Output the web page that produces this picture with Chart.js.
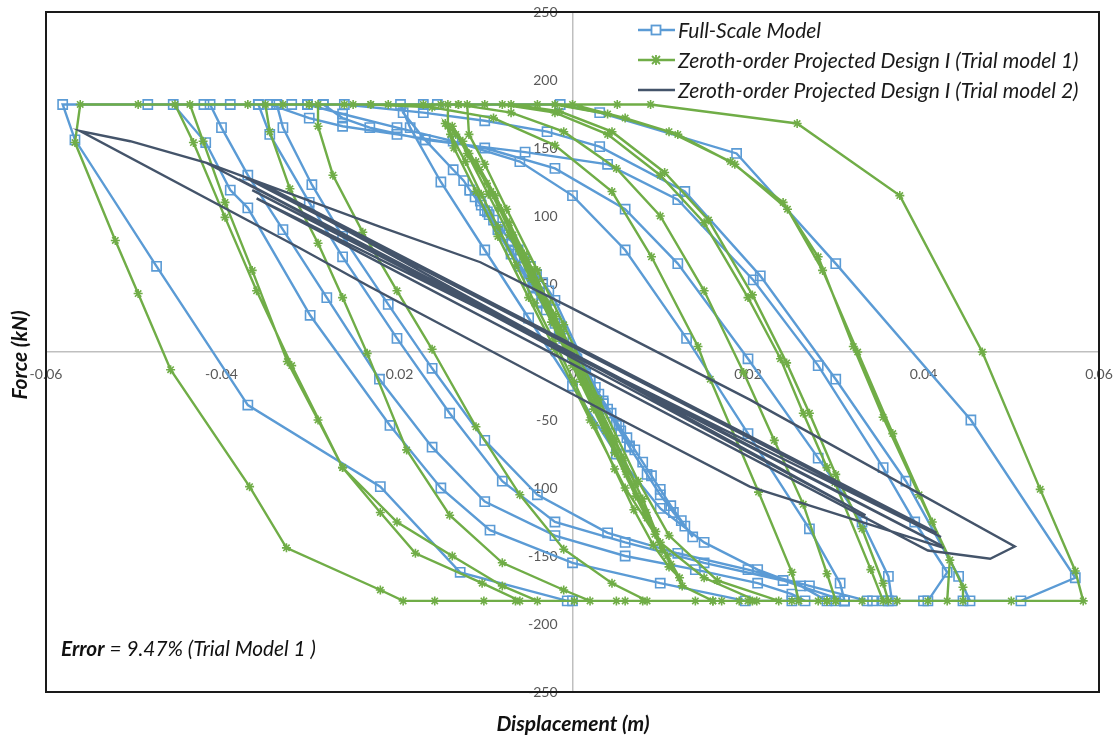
<!DOCTYPE html>
<html>
<head>
<meta charset="utf-8">
<title>Force - displacement hysteresis</title>
<script src="https://cdn.jsdelivr.net/npm/chart.js@4.4.1/dist/chart.umd.min.js"></script>
<style>
  html, body { margin: 0; padding: 0; background: #fff; }
  #wrap { width: 1118px; height: 740px; position: relative; }
</style>
</head>
<body>
<div id="wrap"><canvas id="hyst" width="1118" height="740"></canvas></div>
<script>
// ---- tick values ----
const xTicks = [-0.06, -0.04, -0.02, 0, 0.02, 0.04, 0.06];
const yTicks = [-250, -200, -150, -100, -50, 0, 50, 100, 150, 200, 250];

// ---- Full-Scale Model (displacement m / force kN) ----
const fullDisp = [
  0, -0.0015, -0.0030, -0.0020, 0.0005, 0.0020, 0.0030, 0.0015, -0.0010, -0.0035, -0.0050, -0.0060,
  -0.0045, -0.0015, 0.0015, 0.0040, 0.0055, 0.0065, 0.0050, 0.0020, -0.0015, -0.0045, -0.0070, -0.0085,
  -0.0095, -0.0105, -0.0117, -0.0100, -0.0070, -0.0035, 0.0000, 0.0035, 0.0065, 0.0085, 0.0100, 0.0115,
  0.0128, 0.0137,
  0.0124, 0.0112, 0.0100, 0.0090, 0.0080, 0.0071, 0.0062, 0.0053, 0.0044, 0.0035, 0.0026,
  -0.0020, -0.0027, -0.0034, -0.0041, -0.0048, -0.0055, -0.0062, -0.0069, -0.0076, -0.0083, -0.0090,
  -0.0097, -0.0104, -0.0111, -0.0117, -0.0124,
  -0.0136, -0.0168, -0.0193, -0.0196,
  -0.0185, -0.0150, -0.0100, -0.0050, 0.0000, 0.0050, 0.0100, 0.0150, 0.0211, 0.0260, 0.0290, 0.0310,
  0.0305, 0.0270, 0.0200, 0.0130, 0.0060, 0.0000, -0.0060, -0.0136, -0.0200, -0.0262, -0.0302, -0.0320,
  -0.0337, -0.0330, -0.0297, -0.0262, -0.0210, -0.0160, -0.0100, -0.0040, 0.0040, 0.0120, 0.0200, 0.0270, 0.0336, 0.0354,
  0.0364, 0.0360, 0.0330, 0.0280, 0.0200, 0.0120, 0.0060, -0.0020, -0.0100, -0.0200, -0.0262, -0.0300, -0.0345,
  -0.0358, -0.0345, -0.0300, -0.0262, -0.0200, -0.0140, -0.0080, -0.0020, 0.0060, 0.0150, 0.0240, 0.0310,
  0.0342, 0.0405,
  0.0427, 0.0390, 0.0354, 0.0280, 0.0206, 0.0120, 0.0040, -0.0054, -0.0168, -0.0231, -0.0262, -0.0284,
  -0.0302, -0.0390,
  -0.0413, -0.0400, -0.0370, -0.0330, -0.0280, -0.0220, -0.0160, -0.0100, -0.0020, 0.0060, 0.0140, 0.0211, 0.0250, 0.0265,
  0.0300, 0.0360, 0.0445,
  0.0453, 0.0440, 0.0380, 0.0300, 0.0214, 0.0128, 0.0031, -0.0029, -0.0100, -0.0170, -0.0260,
  -0.0337, -0.0420,
  -0.0455, -0.0418, -0.0390, -0.0370, -0.0299, -0.0208, -0.0150, -0.0094, 0.0000, 0.0100, 0.0197,
  0.0250, 0.0310, 0.0400, 0.0511,
  0.0573, 0.0454, 0.0300, 0.0187, 0.0031, -0.0014,
  -0.0154, -0.0170, -0.0284, -0.0358, -0.0484,
  -0.0581, -0.0567, -0.0474, -0.0370, -0.0219, -0.0128, -0.0006, 0.0000
];
const fullForce = [
  0, 15, 31, 21, -5, -21, -31, -16, 10, 37, 52, 63,
  47, 16, -16, -42, -58, -69, -53, -21, 16, 48, 75, 90,
  101, 111, 119, 104, 72, 36, -2, -38, -70, -90, -105, -118,
  -128, -136,
  -124, -113, -101, -91, -81, -72, -63, -54, -45, -36, -26,
  38, 45, 51, 57, 63, 69, 75, 81, 86, 92, 97,
  103, 108, 114, 119, 126,
  134, 156, 176, 182,
  165, 125, 75, 25, -25, -75, -115, -140, -160, -172, -183, -183,
  -170, -130, -60, 10, 75, 115, 140, 155, 165, 175, 182, 182,
  182, 165, 123, 85, 35, -12, -65, -105, -133, -148, -160, -172, -183, -183,
  -183, -165, -125, -78, -5, 65, 105, 135, 150, 160, 166, 172, 182,
  182, 160, 110, 70, 10, -45, -95, -125, -140, -155, -168, -183,
  -183, -183,
  -162, -125, -85, -10, 53, 112, 138, 147, 156, 165, 172, 182,
  182, 182,
  182, 165, 130, 90, 40, -20, -70, -110, -135, -150, -160, -170, -178, -183,
  -183, -183, -183,
  -183, -165, -95, -20, 56, 118, 151, 162, 170, 176, 182,
  182, 182,
  182, 154, 119, 106, 27, -54, -100, -131, -155, -170, -183,
  -183, -183, -183, -183,
  -166, -50, 65, 146, 176, 182,
  182, 182, 182, 182, 182,
  182, 156, 63, -39, -99, -162, -183, -183
];

// ---- Zeroth-order Projected Design I (Trial model 1) ----
const trial1Disp = [
  0, -0.0020, -0.0040, -0.0028, 0.0005, 0.0028, 0.0012, -0.0022, -0.0055, -0.0072, -0.0052, -0.0012,
  0.0030, 0.0058, 0.0072, 0.0048, 0.0002, -0.0045, -0.0088, -0.0110, -0.0098, -0.0052, 0.0000, 0.0048,
  0.0080, 0.0095, 0.0102,
  0.0085, 0.0062, 0.0038, 0.0012, -0.0016, -0.0042, -0.0068, -0.0093, -0.0118, -0.0133, -0.0145,
  -0.0139, -0.0122, -0.0104, -0.0085, -0.0064, -0.0043, -0.0021, 0.0002, 0.0025, 0.0048, 0.0070, 0.0092, 0.0110, 0.0122,
  0.0108, 0.0084, 0.0060, 0.0036, 0.0012, -0.0012, -0.0036, -0.0060, -0.0084, -0.0106, -0.0125, -0.0137,
  -0.0120, -0.0096, -0.0072, -0.0048, -0.0024, 0.0000, 0.0024, 0.0048, 0.0072, 0.0094, 0.0112,
  0.0125, 0.0160, 0.0205,
  0.0258, 0.0250, 0.0212, 0.0157, 0.0143, 0.0090, 0.0045, -0.0020, -0.0090, -0.0160, -0.0230,
  -0.0260,
  -0.0290, -0.0290, -0.0273, -0.0239, -0.0200, -0.0160, -0.0110, -0.0060, -0.0010, 0.0045, 0.0085,
  0.0140, 0.0200, 0.0250,
  0.0300, 0.0290, 0.0263, 0.0230, 0.0195, 0.0150, 0.0100, 0.0050, -0.0010, -0.0070, -0.0130,
  -0.0142, -0.0142, -0.0135, -0.0110, -0.0085, -0.0050, -0.0020, 0.0020, 0.0060, 0.0100, 0.0150, 0.0210,
  0.0280,
  0.0354, 0.0340, 0.0299, 0.0290, 0.0263, 0.0237, 0.0200, 0.0150, 0.0100, 0.0040, -0.0020, -0.0080,
  -0.0120, -0.0118, -0.0100, -0.0075, -0.0040, -0.0010, 0.0030, 0.0075, 0.0110, 0.0165, 0.0235,
  0.0300,
  0.0360, 0.0354, 0.0330, 0.0300, 0.0270, 0.0244, 0.0205, 0.0155, 0.0105, 0.0045, -0.0015, -0.0070,
  -0.0150, -0.0230, -0.0300,
  -0.0350, -0.0345, -0.0322, -0.0290, -0.0262, -0.0234, -0.0189, -0.0140, -0.0080, -0.0010, 0.0020,
  0.0080, 0.0160, 0.0290, 0.0370,
  0.0427, 0.0430, 0.0395, 0.0354, 0.0320, 0.0280, 0.0240, 0.0180, 0.0110, 0.0040, -0.0020,
  -0.0100, -0.0210, -0.0330,
  -0.0436, -0.0421, -0.0396, -0.0365, -0.0325, -0.0290, -0.0262, -0.0200, -0.0137, -0.0080, -0.0040,
  0.0060, 0.0190, 0.0330,
  0.0445, 0.0445, 0.0410, 0.0365, 0.0325, 0.0285, 0.0245, 0.0185, 0.0120, 0.0060, 0.0000,
  -0.0130, -0.0250, -0.0370,
  -0.0453, -0.0432, -0.0396, -0.0360, -0.0320, -0.0262, -0.0219, -0.0179, -0.0103, -0.0060,
  0.0050, 0.0170, 0.0290, 0.0405, 0.0500,
  0.0582, 0.0573, 0.0533, 0.0467, 0.0373, 0.0256, 0.0089,
  0.0051, -0.0040, -0.0170, -0.0300, -0.0495,
  -0.0561, -0.0567, -0.0521, -0.0495, -0.0458, -0.0368, -0.0326, -0.0219, -0.0193,
  -0.0157, -0.0101, -0.0065, 0.0002
];
const trial1Force = [
  0, 26, 52, 36, -6, -36, -15, 28, 72, 95, 68, 15,
  -40, -78, -97, -64, -3, 60, 115, 140, 124, 66, -2, -66,
  -108, -132, -146,
  -122, -90, -58, -22, 16, 50, 86, 118, 146, 160, 168,
  160, 140, 116, 92, 64, 36, 8, -22, -54, -86, -116, -142, -158, -166,
  -150, -118, -86, -54, -22, 10, 42, 74, 106, 134, 155, 166,
  146, 116, 86, 54, 22, -10, -42, -74, -106, -134, -156,
  -172, -183, -183,
  -183, -162, -103, -20, 4, 70, 118, 152, 172, 180, 182,
  182,
  182, 166, 130, 88, 45, 2, -55, -105, -145, -170, -183,
  -183, -183, -183,
  -183, -163, -112, -65, -15, 45, 100, 135, 162, 176, 182,
  182, 166, 150, 118, 85, 40, 2, -50, -100, -140, -166, -183,
  -183,
  -183, -160, -96, -85, -45, -5, 40, 95, 130, 160, 176, 182,
  182, 160, 138, 105, 60, 20, -35, -95, -135, -168, -183,
  -183,
  -183, -170, -130, -90, -45, -8, 42, 97, 132, 162, 177, 182,
  182, 182, 182,
  182, 162, 120, 80, 40, -1, -72, -120, -155, -175, -183,
  -183, -183, -183, -183,
  -183, -153, -105, -48, 4, 70, 110, 140, 162, 175, 182,
  182, 182, 182,
  182, 155, 110, 60, -7, -50, -85, -125, -150, -172, -183,
  -183, -183, -183,
  -183, -173, -125, -60, 0, 60, 105, 138, 160, 172, 182,
  182, 182, 182,
  182, 154, 99, 45, -10, -85, -118, -148, -170, -183,
  -183, -183, -183, -183, -183,
  -183, -161, -101, 0, 115, 168, 182,
  182, 182, 182, 182, 182,
  182, 154, 82, 43, -13, -99, -144, -175, -183,
  -183, -183, -183, -183
];

// ---- Zeroth-order Projected Design I (Trial model 2) ----
const trial2Disp = [
  -0.0365, 0.0421, -0.0417, 0.0410, -0.0380, 0.0334, -0.0355, 0.0415, -0.0372, 0.0420, -0.0360, 0.0405,
  0.0476, 0.0504, 0.0202, -0.0003, -0.0105, -0.0219, -0.0417, -0.0504, -0.0561,
  -0.0311, -0.0231, -0.0003, 0.0035, 0.0202, 0.0423
];
const trial2Force = [
  119, -142.6, 139, -139, 127, -120, 124, -133, 128, -136, 113, -146,
  -152, -143, -35, 33, 66, 92, 139, 155, 162.5,
  76.5, 48, -30, -43, -99, -144
];

const BLUE = '#5B9BD5';
const GREEN = '#70AD47';
const SLATE = '#44546A';
const TICK_GREY = '#595959';

function pairs(xs, ys) {
  return xs.map((x, i) => ({ x: x, y: ys[i] }));
}

// keep edge labels from pushing the plot area inwards
function noEdgePadding(scale) {
  scale.paddingTop = 0;
  scale.paddingBottom = 0;
  scale.paddingLeft = 0;
  scale.paddingRight = 0;
}

// force labels sit left of the centred vertical axis, under the curves
const forceLabels = {
  id: 'forceLabels',
  beforeDatasetsDraw(chart) {
    const ctx = chart.ctx;
    const xs = chart.scales.x, ys = chart.scales.y;
    const x0 = xs.getPixelForValue(0) - 15;
    ctx.save();
    ctx.font = '14px Lato';
    ctx.fillStyle = TICK_GREY;
    ctx.textAlign = 'right';
    ctx.textBaseline = 'middle';
    yTicks.forEach(v => ctx.fillText(String(v), x0, ys.getPixelForValue(v)));
    ctx.restore();
  }
};

// frame, legend, axis titles and the error note
const decorations = {
  id: 'decorations',
  afterDraw(chart) {
    const ctx = chart.ctx;
    const a = chart.chartArea;
    ctx.save();

    ctx.strokeStyle = '#1a1a1a';
    ctx.lineWidth = 2;
    ctx.strokeRect(a.left, a.top, a.right - a.left, a.bottom - a.top);

    // legend
    const rows = [
      { label: 'Full-Scale Model', color: BLUE, marker: 'square', y: 30 },
      { label: 'Zeroth-order Projected Design I (Trial model 1)', color: GREEN, marker: 'star', y: 60 },
      { label: 'Zeroth-order Projected Design I (Trial model 2)', color: SLATE, marker: null, y: 90 }
    ];
    ctx.font = 'italic 21px Lato';
    ctx.textBaseline = 'middle';
    ctx.textAlign = 'left';
    rows.forEach(r => {
      ctx.strokeStyle = r.color;
      ctx.lineWidth = 2.5;
      ctx.beginPath();
      ctx.moveTo(638, r.y);
      ctx.lineTo(675, r.y);
      ctx.stroke();
      ctx.lineWidth = 1.8;
      if (r.marker === 'square') {
        ctx.fillStyle = '#fff';
        ctx.fillRect(651.5, r.y - 4.5, 9, 9);
        ctx.strokeRect(651.5, r.y - 4.5, 9, 9);
      } else if (r.marker === 'star') {
        ctx.beginPath();
        ctx.moveTo(652, r.y - 4); ctx.lineTo(660, r.y + 4);
        ctx.moveTo(660, r.y - 4); ctx.lineTo(652, r.y + 4);
        ctx.moveTo(656, r.y - 5); ctx.lineTo(656, r.y + 5);
        ctx.stroke();
      }
      ctx.fillStyle = '#1a1a1a';
      ctx.fillText(r.label, 678, r.y + 1);
    });

    // axis titles
    ctx.fillStyle = '#111';
    ctx.font = 'bold italic 21px Lato';
    ctx.textAlign = 'center';
    ctx.fillText('Displacement (m)', 573, 724);
    ctx.save();
    ctx.translate(20, 355);
    ctx.rotate(-Math.PI / 2);
    ctx.fillText('Force (kN)', 0, 0);
    ctx.restore();

    // error note
    ctx.textAlign = 'left';
    ctx.font = 'bold italic 20.8px Lato';
    const head = 'Error';
    ctx.fillText(head, 61, 649);
    const w = ctx.measureText(head).width;
    ctx.font = 'italic 20.8px Lato';
    ctx.fillText(' = 9.47% (Trial Model 1 )', 61 + w, 649);

    ctx.restore();
  }
};

function draw() {
  new Chart(document.getElementById('hyst'), {
    type: 'scatter',
    data: {
      datasets: [
        {
          label: 'Full-Scale Model',
          data: pairs(fullDisp, fullForce),
          showLine: true,
          borderColor: BLUE,
          borderWidth: 2.4,
          pointStyle: 'rect',
          pointRadius: 6.5,
          pointBorderWidth: 1.6,
          pointBorderColor: BLUE,
          pointBackgroundColor: 'rgba(255,255,255,0)',
          tension: 0,
          order: 3
        },
        {
          label: 'Zeroth-order Projected Design I (Trial model 1)',
          data: pairs(trial1Disp, trial1Force),
          showLine: true,
          borderColor: GREEN,
          borderWidth: 2.4,
          pointStyle: 'star',
          pointRadius: 4.5,
          pointBorderWidth: 1.6,
          pointBorderColor: GREEN,
          pointBackgroundColor: GREEN,
          tension: 0,
          order: 2
        },
        {
          label: 'Zeroth-order Projected Design I (Trial model 2)',
          data: pairs(trial2Disp, trial2Force),
          showLine: true,
          borderColor: SLATE,
          borderWidth: 2.4,
          pointRadius: 0,
          tension: 0,
          order: 1
        }
      ]
    },
    options: {
      responsive: false,
      animation: false,
      events: [],
      layout: { padding: { left: 46, top: 12, right: 19, bottom: 48 } },
      plugins: {
        legend: { display: false },
        tooltip: { enabled: false }
      },
      scales: {
        x: {
          type: 'linear',
          min: -0.06,
          max: 0.06,
          position: { y: 0 },
          grid: { display: false, drawTicks: false },
          border: { display: true, color: '#BFBFBF', width: 1.5 },
          afterBuildTicks: axis => { axis.ticks = xTicks.map(v => ({ value: v })); },
          afterFit: noEdgePadding,
          ticks: {
            autoSkip: false,
            maxRotation: 0,
            padding: 14,
            color: TICK_GREY,
            font: { family: 'Lato', size: 14 },
            callback: v => String(Number(v.toFixed(2)))
          }
        },
        y: {
          type: 'linear',
          min: -250,
          max: 250,
          position: { x: 0 },
          grid: { display: false, drawTicks: false },
          border: { display: true, color: '#BFBFBF', width: 1.5 },
          afterBuildTicks: axis => { axis.ticks = yTicks.map(v => ({ value: v })); },
          afterFit: noEdgePadding,
          ticks: { display: false }
        }
      }
    },
    plugins: [forceLabels, decorations]
  });
}

Promise.all([
  document.fonts.load('italic 21px Lato'),
  document.fonts.load('bold italic 21px Lato'),
  document.fonts.load('14px Lato')
]).then(draw, draw);
</script>
</body>
</html>
